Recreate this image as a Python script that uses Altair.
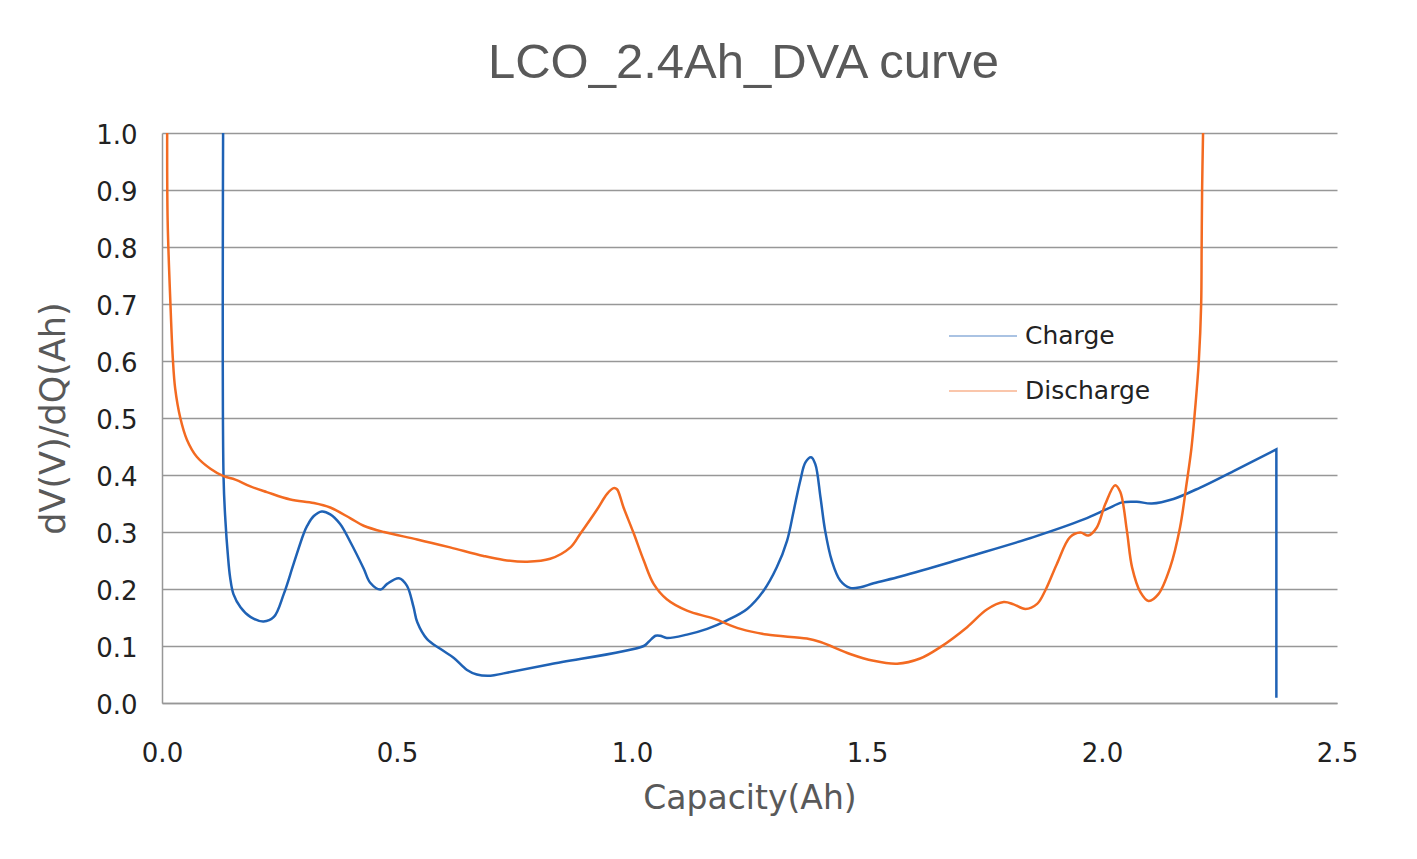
import altair as alt
import pandas as pd

series_names = ["Charge", "Discharge"]
series_colors = ["#1f62b5", "#f36a21"]

charge_x = [0.130, 0.131, 0.135, 0.140, 0.145, 0.152, 0.167, 0.188, 0.216, 0.238,
            0.259, 0.280, 0.301, 0.309, 0.323, 0.340, 0.358, 0.379, 0.401, 0.429,
            0.443, 0.465, 0.479, 0.504, 0.521, 0.535, 0.543, 0.564, 0.592, 0.621,
            0.649, 0.670, 0.699, 0.727, 0.826, 1.025, 1.035, 1.050, 1.060, 1.074,
            1.117, 1.160, 1.202, 1.245, 1.280, 1.308, 1.330, 1.344, 1.358, 1.369,
            1.381, 1.390, 1.401, 1.411, 1.425, 1.443, 1.464, 1.486, 1.514, 1.571,
            1.677, 1.713, 1.854, 1.961, 2.010, 2.043, 2.074, 2.106, 2.152, 2.209,
            2.280, 2.371, 2.371, 2.371]
charge_y = [1.000, 0.395, 0.319, 0.261, 0.220, 0.191, 0.168, 0.151, 0.143, 0.151,
            0.191, 0.244, 0.296, 0.311, 0.328, 0.336, 0.331, 0.314, 0.282, 0.236,
            0.211, 0.199, 0.209, 0.219, 0.206, 0.169, 0.142, 0.112, 0.095, 0.079,
            0.058, 0.050, 0.048, 0.052, 0.068, 0.100, 0.107, 0.118, 0.118, 0.114,
            0.120, 0.130, 0.145, 0.165, 0.197, 0.238, 0.285, 0.337, 0.390, 0.422,
            0.431, 0.419, 0.361, 0.302, 0.250, 0.215, 0.202, 0.203, 0.210, 0.222,
            0.247, 0.256, 0.291, 0.322, 0.340, 0.352, 0.353, 0.350, 0.358, 0.378,
            0.407, 0.445, 0.445, 0.009]

discharge_x = [0.011, 0.012, 0.018, 0.023, 0.028, 0.039, 0.053, 0.074, 0.103, 0.131,
               0.156, 0.188, 0.223, 0.273, 0.323, 0.358, 0.401, 0.429, 0.472, 0.543,
               0.613, 0.684, 0.727, 0.777, 0.826, 0.869, 0.890, 0.926, 0.947, 0.961,
               0.968, 0.982, 1.003, 1.025, 1.046, 1.074, 1.117, 1.174, 1.231, 1.287,
               1.372, 1.401, 1.464, 1.514, 1.564, 1.613, 1.656, 1.713, 1.755, 1.791,
               1.812, 1.837, 1.862, 1.879, 1.904, 1.932, 1.954, 1.971, 1.989, 2.007,
               2.028, 2.039, 2.053, 2.064, 2.082, 2.099, 2.120, 2.145, 2.166, 2.180,
               2.190, 2.197, 2.206, 2.211, 2.212, 2.213, 2.215]
discharge_y = [1.000, 0.847, 0.699, 0.605, 0.552, 0.500, 0.462, 0.432, 0.411, 0.398,
               0.392, 0.380, 0.370, 0.357, 0.351, 0.343, 0.324, 0.311, 0.300, 0.287,
               0.273, 0.258, 0.251, 0.248, 0.253, 0.273, 0.297, 0.340, 0.367, 0.377,
               0.375, 0.343, 0.299, 0.250, 0.209, 0.182, 0.162, 0.148, 0.130, 0.120,
               0.113, 0.107, 0.086, 0.074, 0.069, 0.078, 0.098, 0.133, 0.164, 0.177,
               0.173, 0.165, 0.174, 0.197, 0.244, 0.291, 0.299, 0.294, 0.308, 0.349,
               0.382, 0.370, 0.302, 0.238, 0.194, 0.179, 0.191, 0.238, 0.308, 0.385,
               0.445, 0.505, 0.600, 0.700, 0.800, 0.900, 1.000]

x_ticks = [0.0, 0.5, 1.0, 1.5, 2.0, 2.5]
y_ticks = [0.0, 0.1, 0.2, 0.3, 0.4, 0.5, 0.6, 0.7, 0.8, 0.9, 1.0]

rows = []
for i, (x, y) in enumerate(zip(charge_x, charge_y)):
    rows.append({"cap": x, "dvdq": y, "series": "Charge", "i": i})
for i, (x, y) in enumerate(zip(discharge_x, discharge_y)):
    rows.append({"cap": x, "dvdq": y, "series": "Discharge", "i": i})
df = pd.DataFrame(rows)

grid_color = "#979797"

chart = alt.Chart(df).mark_line(
    strokeWidth=2.5, clip=True, interpolate="catmull-rom"
).encode(
    x=alt.X("cap:Q",
            scale=alt.Scale(domain=[0, 2.5], nice=False, zero=False),
            axis=alt.Axis(values=x_ticks, format=".1f", title="Capacity(Ah)",
                          grid=False, ticks=False, tickSize=0, labelFlush=False,
                          labelFont="DejaVu Sans", labelFontSize=26, labelColor="#222222",
                          labelPadding=37, titleFont="DejaVu Sans", titleFontSize=33,
                          titleFontWeight="normal", titleColor="#595959", titlePadding=16,
                          domainColor=grid_color, domainWidth=1.5)),
    y=alt.Y("dvdq:Q",
            scale=alt.Scale(domain=[0, 1], nice=False),
            axis=alt.Axis(values=y_ticks, format=".1f", title="dV(V)/dQ(Ah)",
                          grid=True, gridColor=grid_color, gridWidth=1.5,
                          ticks=False, tickSize=0, labelFlush=False,
                          labelFont="DejaVu Sans", labelFontSize=26, labelColor="#222222",
                          labelPadding=25, labelOffset=2, titleFont="DejaVu Sans", titleFontSize=35,
                          titleFontWeight="normal", titleColor="#595959", titlePadding=24,
                          domainColor=grid_color, domainWidth=1.5)),
    color=alt.Color("series:N",
                    scale=alt.Scale(domain=series_names, range=series_colors),
                    legend=alt.Legend(title=None, orient="none", legendX=786, legendY=168,
                                      direction="vertical", symbolType="stroke",
                                      symbolSize=4624, symbolStrokeWidth=1.2,
                                      symbolOpacity=0.75,
                                      labelFont="DejaVu Sans", labelFontSize=25,
                                      labelColor="#222222", labelOffset=7,
                                      rowPadding=7, padding=0)),
    order=alt.Order("i:Q"),
).properties(
    width=1175,
    height=570,
    title=alt.Title("LCO_2.4Ah_DVA curve", font="Liberation Sans", fontSize=49,
                    fontWeight="normal", color="#595959", anchor="middle",
                    frame="group", offset=34, dx=-6),
    padding={"left": 28, "top": 31, "right": 10, "bottom": 10},
).configure_view(stroke=None)

chart.save("out.html", embed_options={"renderer": "svg", "actions": False})
